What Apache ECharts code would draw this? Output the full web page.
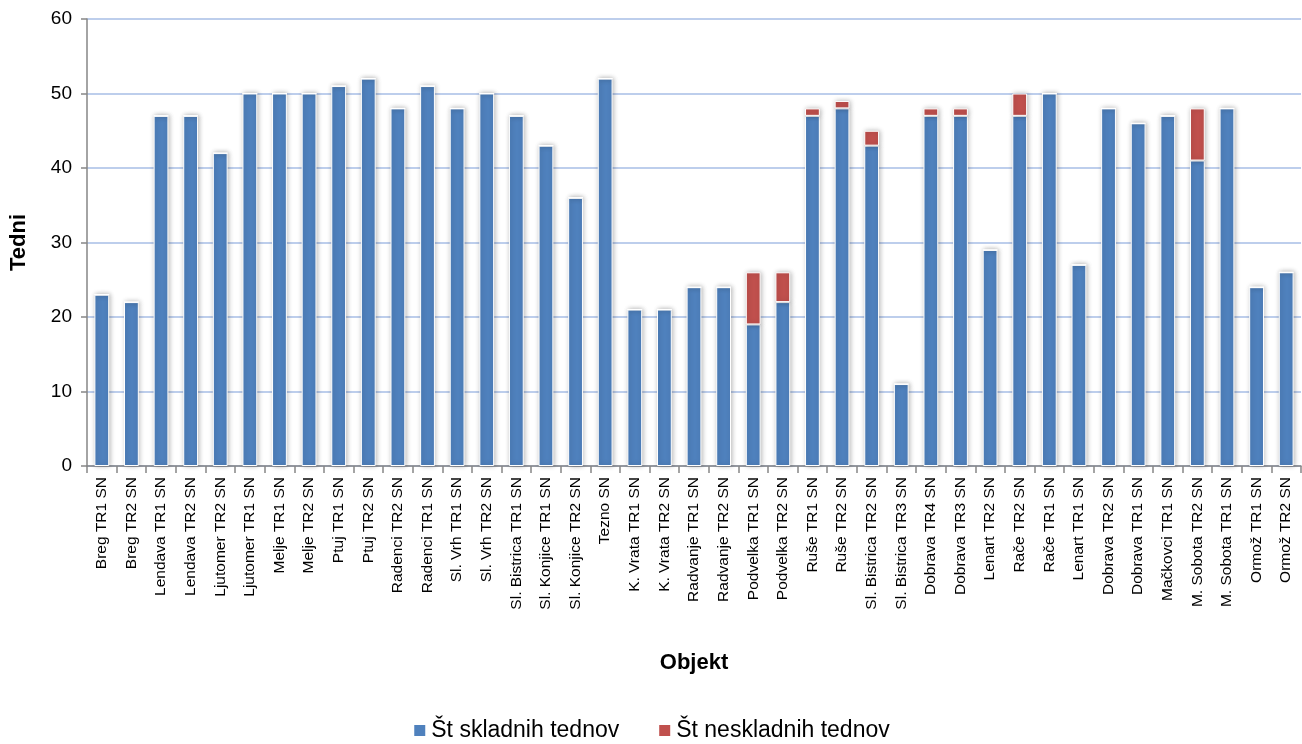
<!DOCTYPE html>
<html>
<head>
<meta charset="utf-8">
<script src="https://cdn.jsdelivr.net/npm/echarts@6/dist/echarts.min.js"></script>
<style>
  html, body { margin: 0; padding: 0; background: #ffffff; }
  #chart { width: 1302px; height: 744px; }
</style>
</head>
<body>
<div id="chart"></div>
<script>
// Transformer stations
const categories = [
  'Breg TR1 SN', 'Breg TR2 SN', 'Lendava TR1 SN', 'Lendava TR2 SN', 'Ljutomer TR2 SN',
  'Ljutomer TR1 SN', 'Melje TR1 SN', 'Melje TR2 SN', 'Ptuj TR1 SN', 'Ptuj TR2 SN',
  'Radenci TR2 SN', 'Radenci TR1 SN', 'Sl. Vrh TR1 SN', 'Sl. Vrh TR2 SN', 'Sl. Bistrica TR1 SN',
  'Sl. Konjice TR1 SN', 'Sl. Konjice TR2 SN', 'Tezno SN', 'K. Vrata TR1 SN', 'K. Vrata TR2 SN',
  'Radvanje TR1 SN', 'Radvanje TR2 SN', 'Podvelka TR1 SN', 'Podvelka TR2 SN', 'Ruše TR1 SN',
  'Ruše TR2 SN', 'Sl. Bistrica TR2 SN', 'Sl. Bistrica TR3 SN', 'Dobrava TR4 SN', 'Dobrava TR3 SN',
  'Lenart TR2 SN', 'Rače TR2 SN', 'Rače TR1 SN', 'Lenart TR1 SN', 'Dobrava TR2 SN',
  'Dobrava TR1 SN', 'Mačkovci TR1 SN', 'M. Sobota TR2 SN', 'M. Sobota TR1 SN', 'Ormož TR1 SN',
  'Ormož TR2 SN'
];

// Weeks in compliance
const compliantWeeks = [
  23, 22, 47, 47, 42,
  50, 50, 50, 51, 52,
  48, 51, 48, 50, 47,
  43, 36, 52, 21, 21,
  24, 24, 19, 22, 47,
  48, 43, 11, 47, 47,
  29, 47, 50, 27, 48,
  46, 47, 41, 48, 24,
  26
];

// Weeks not in compliance
const nonCompliantWeeks = [
  0, 0, 0, 0, 0,
  0, 0, 0, 0, 0,
  0, 0, 0, 0, 0,
  0, 0, 0, 0, 0,
  0, 0, 7, 4, 1,
  1, 2, 0, 1, 1,
  0, 3, 0, 0, 0,
  0, 0, 7, 0, 0,
  0
];

const yTicks = [0, 10, 20, 30, 40, 50, 60];

const seriesNames = ['Št skladnih tednov', 'Št neskladnih tednov'];

const fontFamily = '"Liberation Sans", "DejaVu Sans", sans-serif';

const chart = echarts.init(document.getElementById('chart'), null, { renderer: 'canvas' });

const barStyle = (color) => ({
  color: color,
  borderColor: '#ffffff',
  borderWidth: 1,
  shadowColor: 'rgba(0,0,0,0.28)',
  shadowBlur: 5,
  shadowOffsetX: 1,
  shadowOffsetY: 0
});

chart.setOption({
  animation: false,
  backgroundColor: '#ffffff',
  grid: { left: 87, right: 1, top: 19, bottom: 278, containLabel: false },
  legend: {
    bottom: -3,
    left: 'center',
    itemWidth: 13,
    itemHeight: 13,
    itemGap: 38,
    icon: 'rect',
    textStyle: { fontFamily: fontFamily, fontSize: 23, color: '#000000' },
    data: seriesNames
  },
  xAxis: {
    type: 'category',
    data: categories,
    name: 'Objekt',
    nameLocation: 'middle',
    nameGap: 186,
    nameTextStyle: { fontFamily: fontFamily, fontSize: 22, fontWeight: 'bold', color: '#000000' },
    axisLine: { lineStyle: { color: '#868686', width: 1.5 } },
    axisTick: { show: true, length: 7, alignWithLabel: false, lineStyle: { color: '#868686', width: 1.5 } },
    axisLabel: {
      rotate: 90,
      interval: 0,
      margin: 11,
      fontFamily: fontFamily,
      fontSize: 15.5,
      color: '#000000'
    }
  },
  yAxis: {
    type: 'value',
    min: yTicks[0],
    max: yTicks[yTicks.length - 1],
    interval: 10,
    name: 'Tedni',
    nameLocation: 'middle',
    nameGap: 57,
    nameRotate: 90,
    nameTextStyle: { fontFamily: fontFamily, fontSize: 22, fontWeight: 'bold', color: '#000000' },
    axisLine: { show: true, lineStyle: { color: '#868686', width: 1.5 } },
    axisTick: { show: true, length: 6, lineStyle: { color: '#868686', width: 1.5 } },
    axisLabel: { fontFamily: fontFamily, fontSize: 19, color: '#000000', margin: 15 },
    splitLine: { lineStyle: { color: '#a7bee6', width: 1.5 } }
  },
  series: [
    {
      name: seriesNames[0],
      type: 'bar',
      stack: 'weeks',
      barWidth: '50%',
      data: compliantWeeks,
      itemStyle: barStyle('#4f81bd')
    },
    {
      name: seriesNames[1],
      type: 'bar',
      stack: 'weeks',
      barWidth: '50%',
      data: nonCompliantWeeks,
      itemStyle: barStyle('#c0504d')
    }
  ]
});
</script>
</body>
</html>
